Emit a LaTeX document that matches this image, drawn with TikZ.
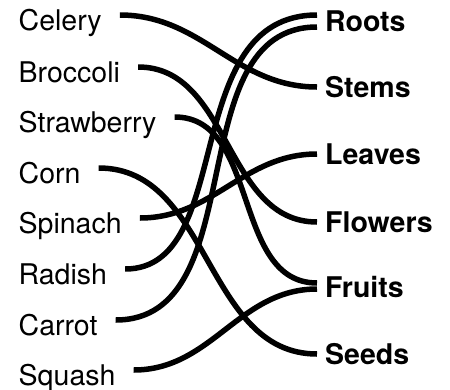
\documentclass[tikz,border=0pt]{standalone}
\usepackage{fontspec}
\setmainfont{TeX Gyre Heros}

\begin{document}
\begin{tikzpicture}[x=1pt,y=-1pt,
  veg/.style={anchor=base west,inner sep=0pt,text height=20pt,text depth=0pt,font=\fontsize{28.5}{32}\selectfont},
  part/.style={veg,font=\fontsize{28.5}{32}\selectfont\bfseries},
  link/.style={line width=5.5pt,out=0,in=180}]
\path[use as bounding box] (0,0) rectangle (450,389);
% vegetables
\node[veg] (celery) at (18.5,30) {Celery};
\node[veg] (broccoli) at (18.5,82) {Broccoli};
\node[veg] (strawberry) at (18.5,132) {Strawberry};
\node[veg] (corn) at (18.5,183) {Corn};
\node[veg] (spinach) at (18.5,233) {Spinach};
\node[veg] (radish) at (18.5,284) {Radish};
\node[veg] (carrot) at (18.5,335) {Carrot};
\node[veg] (squash) at (18.5,385) {Squash};
% plant parts
\node[part] (roots) at (325,31) {Roots};
\node[part] (stems) at (325,97) {Stems};
\node[part] (leaves) at (325,164) {Leaves};
\node[part] (flowers) at (325,232) {Flowers};
\node[part] (fruits) at (325,297) {Fruits};
\node[part] (seeds) at (325,364) {Seeds};
% links
\draw[link] ([xshift=18pt,yshift=5pt]celery.east) to ([xshift=-8pt]stems.west);
\draw[link] ([xshift=18pt,yshift=5pt]broccoli.east) to ([xshift=-8pt]flowers.west);
\draw[link] ([xshift=18pt,yshift=5pt]strawberry.east) to ([xshift=-8pt,yshift=4pt]fruits.west);
\draw[link] ([xshift=18pt,yshift=5pt]corn.east) to ([xshift=-8pt]seeds.west);
\draw[link] ([xshift=18pt,yshift=5pt]spinach.east) to ([xshift=-8pt]leaves.west);
\draw[link,out looseness=.9,in looseness=1.12] ([xshift=18pt,yshift=5pt]radish.east) to ([xshift=-8pt,yshift=6pt]roots.west);
\draw[link] ([xshift=18pt,yshift=5pt]carrot.east) to ([xshift=-8pt,yshift=-6pt]roots.west);
\draw[link] ([xshift=18pt,yshift=5pt]squash.east) to ([xshift=-8pt,yshift=-2pt]fruits.west);
\end{tikzpicture}
\end{document}
